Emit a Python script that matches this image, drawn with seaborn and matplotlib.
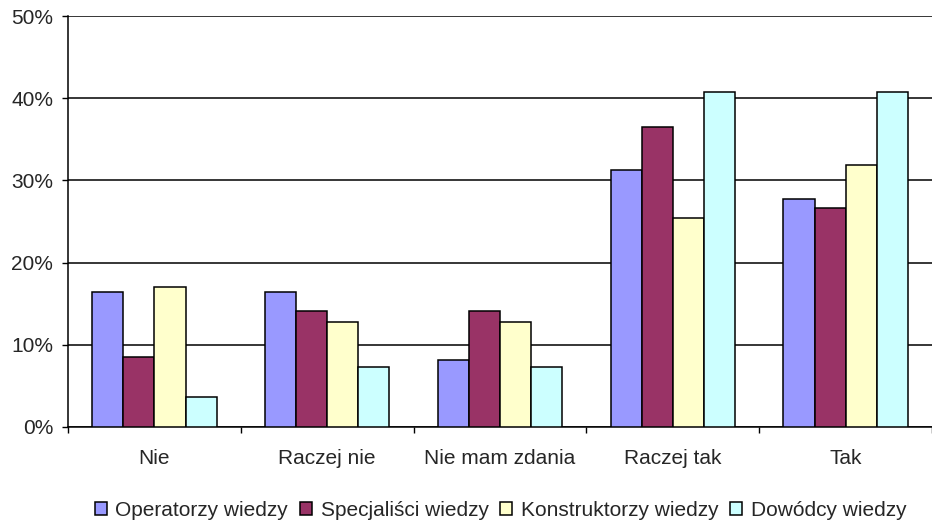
import numpy as np
import pandas as pd
import matplotlib
matplotlib.use("Agg")
import matplotlib.pyplot as plt
import seaborn as sns
from matplotlib.ticker import FuncFormatter

categories = ["Nie", "Raczej nie", "Nie mam zdania", "Raczej tak", "Tak"]
series = ["Operatorzy wiedzy", "Specjaliści wiedzy", "Konstruktorzy wiedzy", "Dowódcy wiedzy"]
operatorzy = [16.4, 16.4, 8.1, 31.3, 27.7]
specjalisci = [8.5, 14.1, 14.1, 36.5, 26.7]
konstruktorzy = [17.0, 12.8, 12.8, 25.4, 31.9]
dowodcy = [3.7, 7.3, 7.3, 40.7, 40.7]
colors = ["#9999FF", "#993366", "#FFFFCC", "#CCFFFF"]

rows = []
for name, vals in zip(series, [operatorzy, specjalisci, konstruktorzy, dowodcy]):
    for c, v in zip(categories, vals):
        rows.append({"kat": c, "seria": name, "val": v})
df = pd.DataFrame(rows)

sns.set_style("white")
plt.rcParams["font.family"] = ["Liberation Sans", "DejaVu Sans"]

fig = plt.figure(figsize=(9.32, 5.23), dpi=100)
ax = fig.add_axes([0.073, 0.1836, 0.927, 0.7858])

sns.barplot(data=df, x="kat", y="val", hue="seria", order=categories, hue_order=series,
            palette=colors, width=0.72, edgecolor="black", linewidth=1.1,
            saturation=1, errorbar=None, ax=ax, zorder=3)

ax.set_ylim(0, 50)
ax.set_xlim(-0.5, 4.5)
ax.set_yticks([0, 10, 20, 30, 40, 50])
ax.yaxis.set_major_formatter(FuncFormatter(lambda v, p: f"{int(v)}%"))
ax.yaxis.grid(True, color="black", linewidth=1.1, zorder=0)
ax.set_axisbelow(True)
ax.set_xlabel("")
ax.set_ylabel("")

for s in ["top", "right"]:
    ax.spines[s].set_visible(False)
for s in ["left", "bottom"]:
    ax.spines[s].set_color("black")
    ax.spines[s].set_linewidth(1.1)

ax.set_xticks(np.arange(-0.5, 5, 1), minor=True)
ax.tick_params(axis="x", which="major", length=0, pad=16, labelsize=15)
ax.tick_params(axis="x", which="minor", length=4.3, width=1, color="black", direction="out", bottom=True)
ax.tick_params(axis="y", which="major", length=4.3, width=1, color="black", direction="out", left=True, labelsize=15, pad=6.5)

handles, labels = ax.get_legend_handles_labels()
ax.legend_.remove()
fig.legend(handles, labels, loc="center", bbox_to_anchor=(0.537, 0.024), ncol=4, frameon=False,
           fontsize=15, handlelength=0.6, handleheight=0.6, handletextpad=0.4, columnspacing=0.55,
           borderpad=0.0)

fig.savefig("out.png", dpi=100)
